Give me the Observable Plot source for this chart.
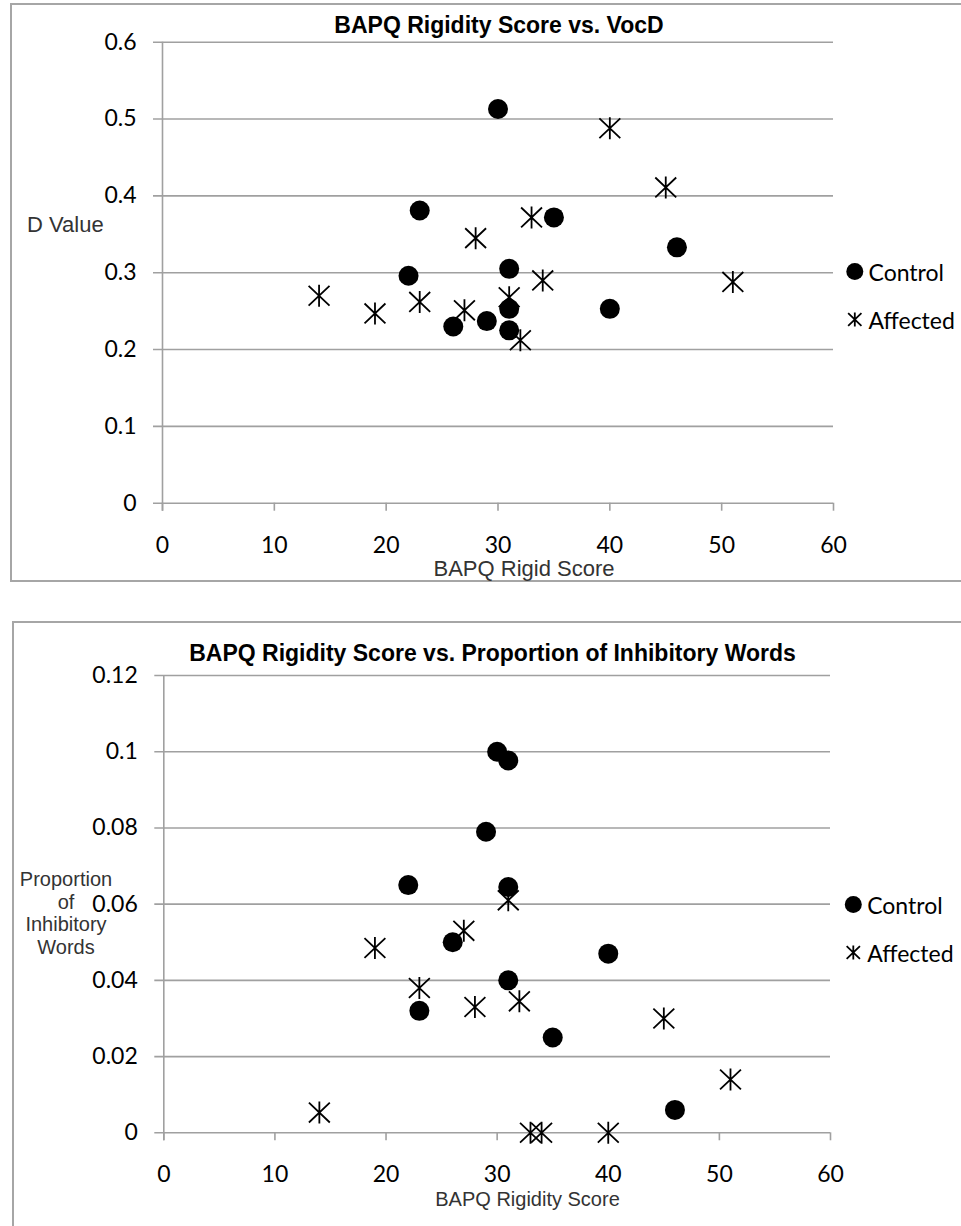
<!DOCTYPE html>
<html>
<head>
<meta charset="utf-8">
<script src="https://cdn.jsdelivr.net/npm/d3@7"></script>
<script src="https://cdn.jsdelivr.net/npm/@observablehq/plot@0.6"></script>
<style>
  html, body { margin: 0; padding: 0; background: #fff; overflow: hidden; }
  #page { position: relative; width: 961px; height: 1226px; overflow: hidden; }
  .box { position: absolute; border: 2px solid #a6a6a6; box-sizing: border-box; }
  .abs { position: absolute; white-space: nowrap; }
  .title { font-family: "Liberation Sans", Arial, sans-serif; font-weight: bold; font-size: 23px; line-height: 23px; color: #000; transform: translateX(-50%); }
  .axlabel { font-family: "Liberation Sans", Arial, sans-serif; font-size: 22px; line-height: 22px; color: #333; }
  .page-svg { position: absolute; left: 0; }
</style>
</head>
<body>
<div id="page">
  <div class="box" style="left:10px; top:3px; width:1000px; height:579px;"></div>
  <div class="box" style="left:12px; top:621px; width:1000px; height:700px;"></div>
</div>
<script>
// ---- data ----
const groups = ["Control", "Affected"];
const xTicks = [0, 10, 20, 30, 40, 50, 60];
const vocdTicks = [0, 0.1, 0.2, 0.3, 0.4, 0.5, 0.6];
const inhibTicks = [0, 0.02, 0.04, 0.06, 0.08, 0.1, 0.12];

const controlScore = [22, 23, 26, 29, 30, 31, 31, 31, 35, 40, 46];
const controlVocd  = [0.296, 0.381, 0.230, 0.237, 0.513, 0.305, 0.253, 0.225, 0.372, 0.253, 0.333];
const controlInhib = [0.065, 0.032, 0.050, 0.079, 0.100, 0.0977, 0.0645, 0.040, 0.025, 0.047, 0.006];

const affectedScore = [14, 19, 23, 27, 28, 31, 32, 33, 34, 40, 45, 51];
const affectedVocd  = [0.270, 0.247, 0.262, 0.251, 0.345, 0.268, 0.212, 0.372, 0.290, 0.488, 0.411, 0.288];
const affectedInhib = [0.0053, 0.0485, 0.038, 0.053, 0.033, 0.061, 0.0345, 0, 0, 0, 0.030, 0.014];

// ---- helpers ----
const starSymbol = {
  draw(ctx, size) {
    const r = Math.sqrt(size / Math.PI);
    ctx.moveTo(-r * 0.95, -r * 0.9); ctx.lineTo(r * 0.95, r * 0.9);
    ctx.moveTo(r * 0.95, -r * 0.9); ctx.lineTo(-r * 0.95, r * 0.9);
    ctx.moveTo(0, -r); ctx.lineTo(0, r);
  }
};
const grey = "#a0a0a0";
const page = document.getElementById("page");

function zip(xs, ys) { return xs.map((x, i) => ({x, y: ys[i]})); }

function scatter({height, top, mTop, mBottom, mLeft, mRight, yDomain, yTicks, control, affected}) {
  const svg = Plot.plot({
    width: 961, height,
    marginTop: mTop, marginBottom: mBottom, marginLeft: mLeft, marginRight: mRight,
    x: {domain: [0, 60]},
    y: {domain: yDomain},
    style: {fontFamily: "Lato, sans-serif", fontSize: "23px", color: "#000", background: "transparent", overflow: "visible"},
    marks: [
      Plot.ruleY(yTicks, {stroke: grey, strokeWidth: 1.6, insetLeft: -9}),
      Plot.ruleX([0], {stroke: grey, strokeWidth: 1.6, insetBottom: -8}),
      Plot.axisX(xTicks, {tickSize: 8, tickPadding: 25, stroke: grey, strokeWidth: 1.6, fill: "#000", label: null, tickFormat: d => String(d)}),
      Plot.axisY(yTicks, {tickSize: 0, tickPadding: 26, fill: "#000", label: null, tickFormat: d => String(d)}),
      Plot.dot(affected, {x: "x", y: "y", symbol: starSymbol, r: 11, stroke: "#000", strokeWidth: 1.8, fill: "none"}),
      Plot.dot(control, {x: "x", y: "y", r: 10, fill: "#000", stroke: "none"})
    ]
  });
  svg.classList.add("page-svg");
  svg.style.top = top + "px";
  page.appendChild(svg);
}

function legend({left, top, range, dotDx, textDx}) {
  const svg = Plot.plot({
    width: 126, height: 110, margin: 0,
    y: {type: "point", domain: groups, range, padding: 0, axis: null},
    style: {fontFamily: "Lato, sans-serif", fontSize: "23px", color: "#000", background: "transparent", overflow: "visible"},
    marks: [
      Plot.dot([groups[0]], {y: d => d, frameAnchor: "left", dx: dotDx, r: 8.5, fill: "#000"}),
      Plot.dot([groups[1]], {y: d => d, frameAnchor: "left", dx: dotDx, symbol: starSymbol, r: 7, stroke: "#000", strokeWidth: 1.8, fill: "none"}),
      Plot.text(groups, {y: d => d, text: d => d, frameAnchor: "left", dx: textDx, dy: 2, textAnchor: "start", fill: "#000"})
    ]
  });
  svg.style.position = "absolute";
  svg.style.left = left + "px";
  svg.style.top = top + "px";
  page.appendChild(svg);
}

function label(text, css, cls) {
  const d = document.createElement("div");
  d.className = "abs " + cls;
  d.innerHTML = text;
  Object.assign(d.style, css);
  page.appendChild(d);
}

// ---- chart 1 ----
scatter({
  height: 590, top: 0, mTop: 41.7, mBottom: 87.3, mLeft: 162, mRight: 128,
  yDomain: [0, 0.6], yTicks: vocdTicks,
  control: zip(controlScore, controlVocd), affected: zip(affectedScore, affectedVocd)
});
legend({left: 835, top: 236, range: [34.7, 83.3], dotDx: 19.3, textDx: 33});
label("BAPQ Rigidity Score vs. VocD", {left: "499px", top: "14px"}, "title");
label("D Value", {left: "27px", top: "214px"}, "axlabel");
label("BAPQ Rigid Score", {left: "524px", top: "560px", transform: "translateX(-50%)", lineHeight: "17px"}, "axlabel");

// ---- chart 2 ----
scatter({
  height: 626, top: 600, mTop: 75, mBottom: 93.7, mLeft: 163.3, mRight: 131,
  yDomain: [0, 0.12], yTicks: inhibTicks,
  control: zip(controlScore, controlInhib), affected: zip(affectedScore, affectedInhib)
});
legend({left: 835, top: 866, range: [37.3, 85.7], dotDx: 17.8, textDx: 31.7});
label("BAPQ Rigidity Score vs. Proportion of Inhibitory Words", {left: "492.5px", top: "642px"}, "title");
label("Proportion<br>of<br>Inhibitory<br>Words", {left: "66px", top: "868px", transform: "translateX(-50%)", textAlign: "center", fontSize: "20px", lineHeight: "22.7px"}, "axlabel");
label("BAPQ Rigidity Score", {left: "527.5px", top: "1191px", transform: "translateX(-50%)", fontSize: "20px", lineHeight: "16px"}, "axlabel");
</script>
</body>
</html>
